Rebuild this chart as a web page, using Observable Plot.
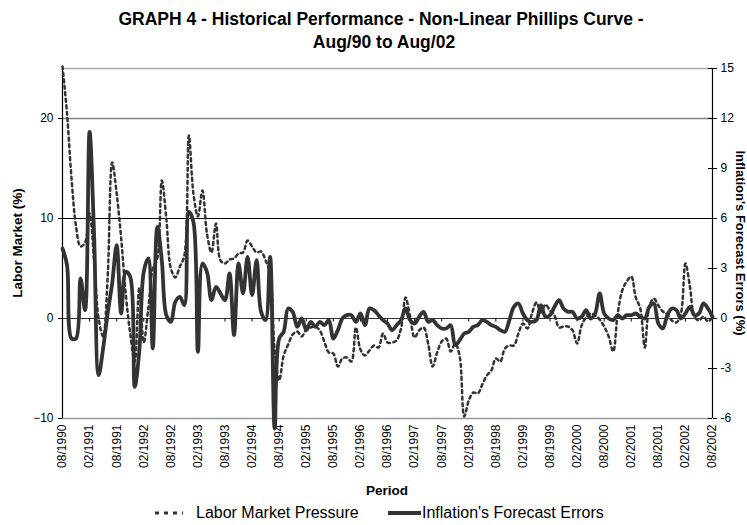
<!DOCTYPE html>
<html><head><meta charset="utf-8">
<script src="https://cdn.jsdelivr.net/npm/d3@7"></script>
<script src="https://cdn.jsdelivr.net/npm/@observablehq/plot@0.6"></script>
<style>
body{margin:0;background:#fff;font-family:"Liberation Sans",Arial,sans-serif;}
#wrap{position:relative;width:747px;height:525px;overflow:hidden;background:#fff;}
#wrap > svg{position:absolute;left:0;top:0;}
.t{position:absolute;white-space:nowrap;color:#000;line-height:1;}
</style></head><body><div id="wrap"></div>
<script>
// Labor Market Pressure (%), monthly Aug/1990 .. Aug/2002 (left axis)
const labor = [
 25.2, 20.5, 14.0, 9.2, 7.2, 7.6, 10.5, 5.8, 0.0, -1.8,
 4.1, 15.6, 12.5, 8.0, 2.5, -1.5, -4.3, 3.0, -2.4, 1.0,
 5.0, 6.0, 13.8, 10.0, 5.0, 4.1, 5.2, 6.3, 18.3, 12.5,
 10.2, 12.8, 8.5, 6.6, 9.5, 5.8, 5.5, 5.9, 6.0, 6.5,
 6.6, 7.8, 7.2, 6.6, 6.7, 5.8, 4.5, -3.2, -6.2, -3.7,
 -2.6, -1.6, -1.3, -1.8, -1.1, -0.9, -0.8, -1.2, -2.3, -3.4,
 -3.5, -4.8, -4.0, -3.9, -4.3, -0.9, -3.1, -3.7, -3.2, -2.7,
 -2.9, -1.5, -2.4, -2.4, -2.2, -1.0, 2.1, 0.2, -1.9, -1.2,
 -0.9, -2.5, -4.8, -3.4, -2.3, -2.0, -3.3, -2.5, -3.8, -9.8,
 -8.2, -7.4, -7.5, -6.6, -5.7, -5.2, -4.0, -4.3, -3.0, -2.7,
 -2.7, -1.5, -0.5, -1.0, 0.5, 1.6, 0.6, 1.4, 0.8, 0.3,
 -0.9, -0.8, -0.8, -1.2, -2.5, -0.7, 0.1, 0.5, 0.3, -0.1,
 -0.8, -1.8, -3.3, 0.5, 2.8, 3.7, 4.2, 2.1, 1.0, -2.9,
 1.2, 2.0, 1.3, 0.7, 0.4, -0.2, -0.4, 0.5, 5.5, 3.2,
 0.2, -0.2, 0.2, -0.3, 0.1
];
// Inflation's Forecast Errors (%), same months (right axis)
const inflation = [
 4.2, 3.2, -1.2, -1.2, 2.4, 0.5, 11.2, 5.0, -3.4, -1.8,
 0.3, 2.1, 4.4, 0.3, 2.8, 2.5, -4.1, -2.0, 2.8, 3.6,
 -1.8, 5.5, 3.5, 0.2, -0.2, 1.0, 1.3, 0.8, 6.4, 5.8,
 -2.0, 3.3, 2.8, 1.1, 1.9, 1.5, 1.1, 2.7, -1.0, 3.3,
 1.5, 3.7, 1.4, 3.5, 0.4, -0.1, 3.7, -6.6, -1.2, -0.8,
 0.6, 0.4, -0.5, 0.0, -0.7, -0.2, -0.5, -0.2, -0.4, -0.1,
 -1.2, -0.7, 0.0, 0.2, 0.2, -0.2, 0.3, -0.4, 0.6, 0.5,
 0.2, -0.1, -0.3, -0.7, -0.4, -0.1, 0.6, -0.1, -0.3, 0.1,
 0.4, -0.2, -0.1, -0.4, -0.6, -0.6, -0.4, -1.6, -1.3, -0.9,
 -0.8, -0.5, -0.4, -0.1, -0.2, -0.4, -0.5, -0.7, -0.8, -0.1,
 0.7, 0.9, 0.3, -0.1, -0.2, -0.1, 0.8, 0.1, 0.2, 0.7,
 1.1, 0.6, 0.4, 0.4, 0.0, 0.1, 0.5, 0.0, 0.3, 1.5,
 0.3, 0.0, -0.1, 0.2, 0.0, 0.2, 0.2, 0.3, 0.1, 0.0,
 0.7, 0.9, -0.3, -0.6, 0.2, 0.6, 0.5, 0.0, 0.3, 0.7,
 0.2, 0.3, 0.9, 0.6, 0.1
];
const tickLabels = ["08/1990","02/1991","08/1991","02/1992","08/1992","02/1993","08/1993","02/1994",
 "08/1994","02/1995","08/1995","02/1996","08/1996","02/1997","08/1997","02/1998","08/1998",
 "02/1999","08/1999","02/2000","08/2000","02/2001","08/2001","02/2002","08/2002"];
const leftTicks = [-10, 0, 10, 20];
const rightTicks = [-6, -3, 0, 3, 6, 9, 12, 15];
const title1 = "GRAPH 4 - Historical Performance - Non-Linear Phillips Curve -";
const title2 = "Aug/90 to Aug/02";

const ratio = 10 / 6; // right-axis unit -> left-axis unit
const rows = labor.map((v, i) => ({i, labor: v, infl: inflation[i] * ratio}));
const tickIdx = tickLabels.map((_, k) => k * 6);
const last = labor.length - 1;
const font = "Liberation Sans, Arial, sans-serif";

const plot = Plot.plot({
  width: 747, height: 525,
  marginLeft: 62, marginRight: 35, marginTop: 68, marginBottom: 107,
  style: {fontFamily: font, fontSize: "12px", background: "transparent", color: "#000"},
  x: {domain: [0, last]},
  y: {domain: [-10, 25]},
  marks: [
    Plot.ruleY([25], {stroke: "#aaaaaa", strokeWidth: 1.5}),
    Plot.ruleY([20], {stroke: "#808080", strokeWidth: 1.5}),
    Plot.ruleY([10], {stroke: "#000", strokeWidth: 1}),
    Plot.ruleY([-10], {stroke: "#999999", strokeWidth: 1.5}),
    Plot.ruleY([0], {stroke: "#333", strokeWidth: 1}),
    Plot.ruleX(tickIdx, {y1: 0, y2: -0.35, stroke: "#000"}),
    Plot.ruleX([0, last], {y1: -10, y2: 25, stroke: "#000", strokeWidth: 1.2}),
    Plot.ruleY(rightTicks.map(r => r * ratio), {x1: last - 0.9, x2: last, stroke: "#000"}),
    Plot.axisY({anchor: "left", ticks: leftTicks, tickSize: 4, tickPadding: 5, label: null, fontSize: 12}),
    Plot.axisY({anchor: "right", ticks: rightTicks.map(r => r * ratio), tickFormat: d => String(Math.round(d / ratio)),
      tickSize: 4, tickPadding: 4, label: null, fontSize: 12}),
    Plot.axisX({ticks: tickIdx, tickFormat: d => tickLabels[Math.round(d / 6)], tickRotate: -90,
      tickSize: 0, tickPadding: 6, label: null, fontSize: 12}),
    Plot.line(rows, {x: "i", y: "labor", stroke: "#333", strokeWidth: 2.5, strokeDasharray: "3,3.5", curve: "catmull-rom"}),
    Plot.line(rows, {x: "i", y: "infl", stroke: "#333", strokeWidth: 3.8, curve: "catmull-rom"})
  ]
});
const wrap = document.getElementById("wrap");
wrap.appendChild(plot);

function addText(txt, css) {
  const d = document.createElement("div");
  d.className = "t";
  d.textContent = txt;
  Object.assign(d.style, css);
  wrap.appendChild(d);
  return d;
}
addText(title1, {left: "381px", top: "11px", transform: "translateX(-50%)", fontWeight: "bold", fontSize: "17.5px"});
addText(title2, {left: "384px", top: "34px", transform: "translateX(-50%)", fontWeight: "bold", fontSize: "17.5px"});
addText("Labor Market (%)", {left: "18px", top: "243px", transform: "translate(-50%,-50%) rotate(-90deg)", fontWeight: "bold", fontSize: "13.5px"});
addText("Inflation's Forecast Errors (%)", {left: "740px", top: "243px", transform: "translate(-50%,-50%) rotate(90deg)", fontWeight: "bold", fontSize: "13px"});
addText("Period", {left: "387px", top: "484px", transform: "translateX(-50%)", fontWeight: "bold", fontSize: "13.5px"});

// legend
const ns = "http://www.w3.org/2000/svg";
const lg = document.createElementNS(ns, "svg");
lg.setAttribute("width", 747); lg.setAttribute("height", 525);
lg.style.position = "absolute"; lg.style.left = "0"; lg.style.top = "0"; lg.style.pointerEvents = "none";
lg.innerHTML = `<line x1="155" x2="183" y1="513" y2="513" stroke="#333" stroke-width="3" stroke-dasharray="4,5"/>
<line x1="388" x2="421" y1="513" y2="513" stroke="#333" stroke-width="3.8"/>`;
wrap.appendChild(lg);
addText("Labor Market Pressure", {left: "196px", top: "505px", fontSize: "16px"});
addText("Inflation's Forecast Errors", {left: "422px", top: "505px", fontSize: "16px"});
</script></body></html>
